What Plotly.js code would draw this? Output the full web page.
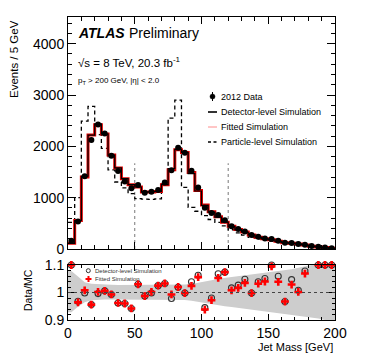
<!DOCTYPE html>
<html>
<head>
<meta charset="utf-8">
<script src="https://cdn.plot.ly/plotly-3.0.1.min.js"></script>
<style>html,body{margin:0;padding:0;background:#fff;}#plot{width:374px;height:362px;}</style>
</head>
<body>
<div id="plot"></div>
<script>
// ---- data ----
const binWidth = 5;
const nBins = 40;
const dataCounts = [160, 537, 1415, 2125, 2425, 2250, 1818, 1520, 1315, 1182, 1245, 1096, 1113, 1148, 1295, 1533, 1975, 1875, 1525, 1200, 803, 703, 662, 560, 445, 388, 342, 273, 238, 206, 195, 159, 120, 116, 99, 84, 60, 45, 30, 15];
const detectorSim = [110, 555, 1417, 2220, 2436, 2240, 1830, 1580, 1370, 1254, 1208, 1110, 1115, 1120, 1254, 1568, 1940, 1880, 1470, 1130, 850, 718, 620, 522, 437, 378, 326, 274, 229, 196, 176, 150, 124, 111, 98, 78, 52, 39, 26, 13];
const fittedSim = [110, 555, 1404, 2220, 2420, 2240, 1830, 1580, 1370, 1254, 1208, 1110, 1110, 1120, 1254, 1545, 1935, 1880, 1490, 1138, 857, 724, 630, 522, 441, 382, 331, 274, 231, 198, 178, 153, 124, 113, 99, 79, 53, 40, 27, 14];
const particleSim = [520, 1000, 2490, 2780, 2230, 1960, 1540, 1305, 1190, 1080, 980, 970, 965, 975, 1320, 2550, 2900, 1200, 810, 735, 650, 575, 520, 450, 375, 315, 270, 228, 196, 170, 150, 130, 112, 100, 88, 72, 48, 36, 24, 12];
const ratioDetector = [1.1, 0.968, 0.998, 0.956, 0.996, 1.006, 0.993, 0.962, 0.96, 0.942, 1.03, 0.987, 0.998, 1.025, 1.033, 0.978, 1.019, 0.998, 1.039, 1.063, 0.945, 0.98, 1.068, 1.074, 1.017, 1.027, 1.048, 0.998, 1.039, 1.051, 1.1, 1.059, 0.967, 1.047, 1.008, 1.078, null, 1.1, 1.1, 1.1];
const ratioFitted = [1.1, 0.964, 1.008, 0.956, 1.002, 1.006, 0.993, 0.962, 0.96, 0.942, 1.03, 0.987, 1.002, 1.025, 1.033, 0.993, 1.02, 0.998, 1.024, 1.056, 0.938, 0.972, 1.053, 1.074, 1.008, 1.017, 1.035, 0.998, 1.032, 1.04, 1.095, 1.039, 0.967, 1.029, 1.002, 1.069, null, 1.1, 1.1, 1.1];
const bandUp = [1.078, 1.058, 1.037, 1.032, 1.03, 1.028, 1.028, 1.027, 1.027, 1.027, 1.027, 1.027, 1.027, 1.027, 1.027, 1.027, 1.028, 1.029, 1.031, 1.035, 1.04, 1.045, 1.05, 1.053, 1.057, 1.06, 1.063, 1.066, 1.07, 1.072, 1.076, 1.079, 1.082, 1.085, 1.09, 1.095, 1.1, 1.1, 1.1, 1.1];
const bandDown = [0.928, 0.948, 0.965, 0.972, 0.974, 0.975, 0.975, 0.975, 0.975, 0.975, 0.975, 0.975, 0.975, 0.975, 0.975, 0.975, 0.974, 0.973, 0.97, 0.966, 0.962, 0.958, 0.952, 0.95, 0.947, 0.944, 0.94, 0.937, 0.933, 0.93, 0.927, 0.924, 0.921, 0.918, 0.915, 0.912, 0.909, 0.905, 0.9, 0.9];
const fitRangeEdges = [50, 120];
const fitLineTop = 1670;

// ---- derived positions ----
const binEdges = [];
for (let i = 0; i <= nBins; i++) binEdges.push(i * binWidth);
const binCenters = binEdges.slice(0, -1).map(e => e + binWidth / 2);
const stepY = v => v.concat([v[v.length - 1]]);
const bandX = [binEdges[0]].concat(binCenters, [binEdges[nBins]]);
const bandYUp = [bandUp[0]].concat(bandUp, [bandUp[nBins - 1]]);
const bandYDown = [bandDown[0]].concat(bandDown, [bandDown[nBins - 1]]);

const FONT = 'Liberation Sans, Arial, Helvetica, sans-serif';
const L = 68, R = 335, T = 17, B = 320;
const pxX = p => (p - L) / (R - L);
const pxY = p => (B - p) / (B - T);

const traces = [
  {x: binEdges, y: stepY(particleSim), xaxis: 'x', yaxis: 'y', mode: 'lines', line: {shape: 'hv', color: '#000', width: 1.3, dash: '4px,3px'}, hoverinfo: 'skip'},
  {x: binEdges, y: stepY(fittedSim), xaxis: 'x', yaxis: 'y', mode: 'lines', line: {shape: 'hv', color: '#e00000', width: 3}, hoverinfo: 'skip'},
  {x: binEdges, y: stepY(detectorSim), xaxis: 'x', yaxis: 'y', mode: 'lines', line: {shape: 'hv', color: '#000', width: 1.2}, hoverinfo: 'skip'},
  {x: binCenters, y: dataCounts, xaxis: 'x', yaxis: 'y', mode: 'markers', marker: {color: '#000', size: 6}, hoverinfo: 'skip'},
  // ratio band
  {x: bandX, y: bandYDown, xaxis: 'x2', yaxis: 'y2', mode: 'lines', line: {width: 0, color: 'rgba(0,0,0,0)'}, hoverinfo: 'skip'},
  {x: bandX, y: bandYUp, xaxis: 'x2', yaxis: 'y2', mode: 'lines', line: {width: 0, color: 'rgba(0,0,0,0)'}, fill: 'tonexty', fillcolor: '#cdcdcd', hoverinfo: 'skip'},
  {x: binCenters, y: ratioDetector, xaxis: 'x2', yaxis: 'y2', mode: 'markers', cliponaxis: false, marker: {symbol: 'circle-open', color: '#333', size: 6, line: {width: 1.1, color: '#333'}}, hoverinfo: 'skip'},
  {x: binCenters, y: ratioFitted, xaxis: 'x2', yaxis: 'y2', mode: 'markers', cliponaxis: false, marker: {symbol: 'cross', color: '#ff0000', size: 6.5, line: {width: 0}}, hoverinfo: 'skip'}
];

const shapes = [];
fitRangeEdges.forEach(e => shapes.push({type: 'line', xref: 'x', yref: 'y', x0: e, x1: e, y0: 0, y1: fitLineTop, line: {color: '#777', width: 1, dash: 'dot'}, layer: 'below'}));
shapes.push({type: 'line', xref: 'x2 domain', yref: 'y2', x0: 0, x1: 1, y0: 1, y1: 1, line: {color: '#444', width: 1, dash: 'dot'}});

// main legend symbols
const legRows = [96.5, 112, 127, 142];
const lx0 = 208, lx1 = 217;
shapes.push({type: 'line', xref: 'paper', yref: 'paper', x0: pxX(212.5), x1: pxX(212.5), y0: pxY(92), y1: pxY(101), line: {color: '#000', width: 1}});
shapes.push({type: 'circle', xref: 'paper', yref: 'paper', x0: pxX(210), x1: pxX(215), y0: pxY(94), y1: pxY(99), fillcolor: '#000', line: {color: '#000', width: 0.5}});
shapes.push({type: 'line', xref: 'paper', yref: 'paper', x0: pxX(lx0), x1: pxX(lx1), y0: pxY(legRows[1]), y1: pxY(legRows[1]), line: {color: '#000', width: 1.6}});
shapes.push({type: 'line', xref: 'paper', yref: 'paper', x0: pxX(lx0), x1: pxX(lx1), y0: pxY(legRows[2]), y1: pxY(legRows[2]), line: {color: '#ff8c8c', width: 1}});
shapes.push({type: 'line', xref: 'paper', yref: 'paper', x0: pxX(lx0), x1: pxX(lx1), y0: pxY(legRows[3]), y1: pxY(legRows[3]), line: {color: '#000', width: 1.4, dash: '3px,2.5px'}});
// ratio legend symbols
shapes.push({type: 'circle', xref: 'paper', yref: 'paper', x0: pxX(86.3), x1: pxX(90.3), y0: pxY(268.7), y1: pxY(272.7), line: {color: '#333', width: 1}});
shapes.push({type: 'rect', xref: 'paper', yref: 'paper', x0: pxX(85.5), x1: pxX(91.5), y0: pxY(278), y1: pxY(280), fillcolor: '#ff0000', line: {width: 0}});
shapes.push({type: 'rect', xref: 'paper', yref: 'paper', x0: pxX(87.5), x1: pxX(89.5), y0: pxY(276), y1: pxY(282), fillcolor: '#ff0000', line: {width: 0}});

const ann = (text, x, y, size, opts) => Object.assign({text: text, xref: 'paper', yref: 'paper', x: pxX(x), y: pxY(y), xanchor: 'left', yanchor: 'middle', showarrow: false, font: {family: FONT, size: size, color: '#000'}}, opts || {});

const annotations = [
  ann('<b><i>ATLAS</i></b>', 76, 33, 14),
  ann('Preliminary', 127, 33, 14),
  ann('\u221As = 8 TeV, 20.3 fb<sup>-1</sup>', 76, 62, 11.5),
  ann('p<sub>T</sub> > 200 GeV, |\u03B7| < 2.0', 76, 81, 8),
  ann('2012 Data', 219, legRows[0], 9),
  ann('Detector-level Simulation', 219, legRows[1], 9),
  ann('Fitted Simulation', 219, legRows[2], 9),
  ann('Particle-level Simulation', 219, legRows[3], 9),
  ann('Detector-level Simulation', 93, 270.7, 6, {font: {family: FONT, size: 6, color: '#333'}}),
  ann('Fitted Simulation', 93, 279, 6, {font: {family: FONT, size: 6, color: '#333'}}),
  ann('Events / 5 GeV', 14, 18, 11.5, {textangle: -90, xanchor: 'center', yanchor: 'top'}),
  ann('Data/MC', 28, 290, 10.5, {textangle: -90, xanchor: 'center', yanchor: 'middle'}),
  ann('Jet Mass [GeV]', 335, 347, 11, {xanchor: 'right', yanchor: 'middle'})
];

const axBase = {showgrid: false, zeroline: false, showline: true, linecolor: '#000', linewidth: 1, mirror: 'allticks', ticks: 'inside', tickcolor: '#000', tickwidth: 1, tickfont: {family: FONT, size: 14, color: '#000'}};

const layout = {
  width: 374, height: 362,
  margin: {l: L, r: 374 - R, t: T, b: 362 - B},
  paper_bgcolor: '#fff', plot_bgcolor: '#fff',
  showlegend: false,
  xaxis: Object.assign({}, axBase, {anchor: 'y', domain: [0, 1], range: [0, 200], dtick: 50, ticklen: 7, showticklabels: false, minor: {dtick: 10, ticks: 'inside', ticklen: 4, tickcolor: '#000'}, matches: 'x2'}),
  yaxis: Object.assign({}, axBase, {anchor: 'x', domain: [pxY(249), 1], range: [0, 4520], tickvals: [0, 1000, 2000, 3000, 4000], ticktext: ['0', '1000', '2000', '3000', '4000'], ticklen: 8, minor: {dtick: 200, ticks: 'inside', ticklen: 4, tickcolor: '#000'}}),
  xaxis2: Object.assign({}, axBase, {anchor: 'y2', domain: [0, 1], range: [0, 200], tickvals: [0, 50, 100, 150, 200], ticktext: ['0', '50', '100', '150', '200'], ticklen: 6, tickfont: {family: FONT, size: 14, color: '#000'}, minor: {dtick: 10, ticks: 'inside', ticklen: 3, tickcolor: '#000'}}),
  yaxis2: Object.assign({}, axBase, {anchor: 'x2', domain: [0, pxY(265)], range: [0.9, 1.1], tickvals: [0.9, 1, 1.1], ticktext: ['0.9', '1', '1.1'], ticklen: 7, minor: {dtick: 0.02, ticks: 'inside', ticklen: 3, tickcolor: '#000'}}),
  shapes: shapes,
  annotations: annotations
};

Plotly.newPlot('plot', traces, layout, {staticPlot: true, displayModeBar: false});
</script>
</body>
</html>
